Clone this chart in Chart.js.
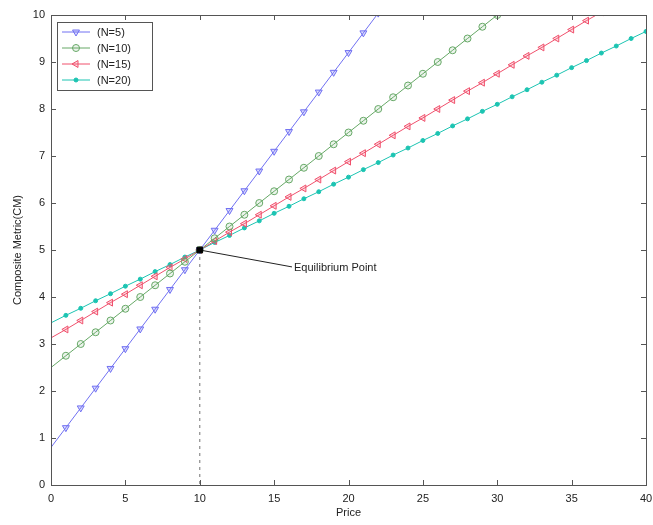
<!DOCTYPE html>
<html>
<head>
<meta charset="utf-8">
<script src="https://cdn.jsdelivr.net/npm/chart.js@4/dist/chart.umd.min.js"></script>
<style>
  html, body { margin: 0; padding: 0; background: #fff; }
  #wrap { width: 653px; height: 525px; }
</style>
</head>
<body>
<div id="wrap"><canvas id="c"></canvas></div>
<script>
// values
const seriesLabels = ["(N=5)", "(N=10)", "(N=15)", "(N=20)"];

const priceN5 = [0, 1, 2, 3, 4, 5, 6, 7, 8, 9, 10, 11, 12, 13, 14, 15, 16, 17, 18, 19, 20, 21, 22];
const cmN5 = [0.80, 1.22, 1.64, 2.06, 2.48, 2.90, 3.32, 3.74, 4.16, 4.58, 5.00, 5.42, 5.84, 6.26, 6.68, 7.10, 7.52, 7.94, 8.36, 8.78, 9.20, 9.62, 10.04];

const priceN10 = [0, 1, 2, 3, 4, 5, 6, 7, 8, 9, 10, 11, 12, 13, 14, 15, 16, 17, 18, 19, 20, 21, 22, 23, 24, 25, 26, 27, 28, 29, 30];
const cmN10 = [2.50, 2.75, 3.00, 3.25, 3.50, 3.75, 4.00, 4.25, 4.50, 4.75, 5.00, 5.25, 5.50, 5.75, 6.00, 6.25, 6.50, 6.75, 7.00, 7.25, 7.50, 7.75, 8.00, 8.25, 8.50, 8.75, 9.00, 9.25, 9.50, 9.75, 10.00];

const priceN15 = [0, 1, 2, 3, 4, 5, 6, 7, 8, 9, 10, 11, 12, 13, 14, 15, 16, 17, 18, 19, 20, 21, 22, 23, 24, 25, 26, 27, 28, 29, 30, 31, 32, 33, 34, 35, 36, 37];
const cmN15 = [3.13, 3.31, 3.50, 3.69, 3.88, 4.06, 4.25, 4.44, 4.63, 4.81, 5.00, 5.19, 5.38, 5.56, 5.75, 5.94, 6.13, 6.31, 6.50, 6.69, 6.88, 7.06, 7.25, 7.44, 7.63, 7.81, 8.00, 8.19, 8.38, 8.56, 8.75, 8.94, 9.13, 9.31, 9.50, 9.69, 9.88, 10.06];

const priceN20 = [0, 1, 2, 3, 4, 5, 6, 7, 8, 9, 10, 11, 12, 13, 14, 15, 16, 17, 18, 19, 20, 21, 22, 23, 24, 25, 26, 27, 28, 29, 30, 31, 32, 33, 34, 35, 36, 37, 38, 39, 40];
const cmN20 = [3.45, 3.61, 3.76, 3.92, 4.07, 4.23, 4.38, 4.54, 4.69, 4.85, 5.00, 5.16, 5.31, 5.47, 5.62, 5.78, 5.93, 6.09, 6.24, 6.40, 6.55, 6.71, 6.86, 7.02, 7.17, 7.33, 7.48, 7.64, 7.79, 7.95, 8.10, 8.26, 8.41, 8.57, 8.72, 8.88, 9.03, 9.19, 9.34, 9.50, 9.65];

// equilibrium point, its guide line and the label pointer
const eqPoint = [10, 5];
const eqDropX = [10, 10];
const eqDropY = [5, 0];
const eqPointerX = [10, 16.2];
const eqPointerY = [5, 4.64];
const eqLabel = "Equilibrium Point";

const xTickValues = [0, 5, 10, 15, 20, 25, 30, 35, 40];
const yTickValues = [0, 1, 2, 3, 4, 5, 6, 7, 8, 9, 10];

const toXY = (xs, ys) => xs.map((x, i) => ({ x: x, y: ys[i] }));
const FONT = "'Liberation Sans', Arial, sans-serif";

// hide the marker on the very first sample, like the original
const skipFirst = (r) => (ctx) => (ctx.dataIndex === 0 ? 0 : r);

const seriesStyle = [
  { color: "#7070f2", fill: "rgba(112,112,242,0.25)", pointStyle: "triangle", rotation: 180, radius: 4 },
  { color: "#66a866", fill: "rgba(102,168,102,0.12)", pointStyle: "circle", rotation: 0, radius: 3.5 },
  { color: "#f0506c", fill: "rgba(240,80,108,0.2)", pointStyle: "triangle", rotation: -90, radius: 4 },
  { color: "#1cc4b2", fill: "#1cc4b2", pointStyle: "circle", rotation: 0, radius: 2 },
];

const seriesData = [toXY(priceN5, cmN5), toXY(priceN10, cmN10), toXY(priceN15, cmN15), toXY(priceN20, cmN20)];

const datasets = seriesData.map((d, i) => ({
  label: seriesLabels[i],
  data: d,
  showLine: true,
  borderColor: seriesStyle[i].color,
  borderWidth: 1,
  pointStyle: seriesStyle[i].pointStyle,
  rotation: seriesStyle[i].rotation,
  pointRadius: skipFirst(seriesStyle[i].radius),
  pointBorderColor: seriesStyle[i].color,
  pointBackgroundColor: seriesStyle[i].fill,
  pointBorderWidth: 1,
  clip: 0,
  order: 5,
}));

datasets.push({
  label: "drop",
  data: toXY(eqDropX, eqDropY),
  showLine: true,
  borderColor: "#8a8a8a",
  borderWidth: 1.2,
  borderDash: [3, 4],
  pointRadius: 0,
  order: 3,
});
datasets.push({
  label: "pointer",
  data: toXY(eqPointerX, eqPointerY),
  showLine: true,
  borderColor: "#222",
  borderWidth: 1,
  pointRadius: 0,
  order: 2,
});
datasets.push({
  label: "equilibrium",
  data: [{ x: eqPoint[0], y: eqPoint[1] }],
  pointStyle: "rect",
  pointRadius: 4,
  pointBackgroundColor: "#000",
  pointBorderColor: "#000",
  order: 1,
});

// matlab style frame: full box, inward ticks, legend box, text label
const framePlugin = {
  id: "frame",
  afterDatasetsDraw(chart) {
    const { ctx, chartArea: a, scales } = chart;
    ctx.save();
    ctx.strokeStyle = "#555";
    ctx.lineWidth = 1;
    ctx.strokeRect(Math.round(a.left) + 0.5, Math.round(a.top) + 0.5, Math.round(a.right - a.left), Math.round(a.bottom - a.top));
    ctx.beginPath();
    xTickValues.forEach((v) => {
      const px = Math.round(scales.x.getPixelForValue(v)) + 0.5;
      ctx.moveTo(px, a.bottom); ctx.lineTo(px, a.bottom - 5);
      ctx.moveTo(px, a.top); ctx.lineTo(px, a.top + 5);
    });
    yTickValues.forEach((v) => {
      const py = Math.round(scales.y.getPixelForValue(v)) + 0.5;
      ctx.moveTo(a.left, py); ctx.lineTo(a.left + 5, py);
      ctx.moveTo(a.right, py); ctx.lineTo(a.right - 5, py);
    });
    ctx.stroke();

    // label of the equilibrium pointer
    ctx.fillStyle = "#222";
    ctx.font = "11px " + FONT;
    ctx.textBaseline = "middle";
    ctx.fillText(eqLabel, scales.x.getPixelForValue(eqPointerX[1]) + 2, scales.y.getPixelForValue(eqPointerY[1]) + 1);

    // legend in the upper left corner
    const bx = a.left + 6, by = a.top + 7, bw = 95, bh = 68;
    ctx.fillStyle = "#fff";
    ctx.fillRect(bx, by, bw, bh);
    ctx.strokeStyle = "#555";
    ctx.strokeRect(bx + 0.5, by + 0.5, bw, bh);
    seriesLabels.forEach((lab, i) => {
      const st = seriesStyle[i];
      const y = by + 10 + i * 16;
      ctx.strokeStyle = st.color;
      ctx.lineWidth = 1;
      ctx.beginPath();
      ctx.moveTo(bx + 5, y); ctx.lineTo(bx + 33, y);
      ctx.stroke();
      if (Chart.helpers && Chart.helpers.drawPoint) {
        ctx.fillStyle = st.fill;
        Chart.helpers.drawPoint(ctx, { pointStyle: st.pointStyle, rotation: st.rotation, radius: st.radius, borderWidth: 1 }, bx + 19, y);
      }
      ctx.fillStyle = "#222";
      ctx.font = "11px " + FONT;
      ctx.fillText(lab, bx + 40, y + 1);
    });
    ctx.restore();
  },
};

new Chart(document.getElementById("c"), {
  type: "scatter",
  data: { datasets: datasets },
  plugins: [framePlugin],
  options: {
    responsive: true,
    maintainAspectRatio: false,
    animation: false,
    layout: { padding: { top: 15, right: 7, left: 0, bottom: 0 } },
    plugins: {
      legend: { display: false },
      tooltip: { enabled: false },
    },
    scales: {
      x: {
        type: "linear",
        min: 0,
        max: 40,
        afterBuildTicks: (s) => { s.ticks = xTickValues.map((v) => ({ value: v })); },
        afterFit: (s) => { s.height = 40; s.paddingLeft = 0; s.paddingRight = 0; },
        grid: { display: false, drawTicks: false },
        border: { display: false },
        ticks: { color: "#222", padding: 7, maxRotation: 0, font: { size: 11, family: FONT } },
        title: { display: true, text: "Price", color: "#222", padding: { top: 0, bottom: 5 }, font: { size: 11, family: FONT } },
      },
      y: {
        type: "linear",
        min: 0,
        max: 10,
        afterBuildTicks: (s) => { s.ticks = yTickValues.map((v) => ({ value: v })); },
        afterFit: (s) => { s.width = 51; s.paddingTop = 0; s.paddingBottom = 0; },
        grid: { display: false, drawTicks: false },
        border: { display: false },
        ticks: { color: "#222", padding: 6, font: { size: 11, family: FONT } },
        title: { display: true, text: "Composite Metric(CM)", color: "#222", padding: { top: 11, bottom: 0 }, font: { size: 11, family: FONT } },
      },
    },
  },
});
</script>
</body>
</html>
